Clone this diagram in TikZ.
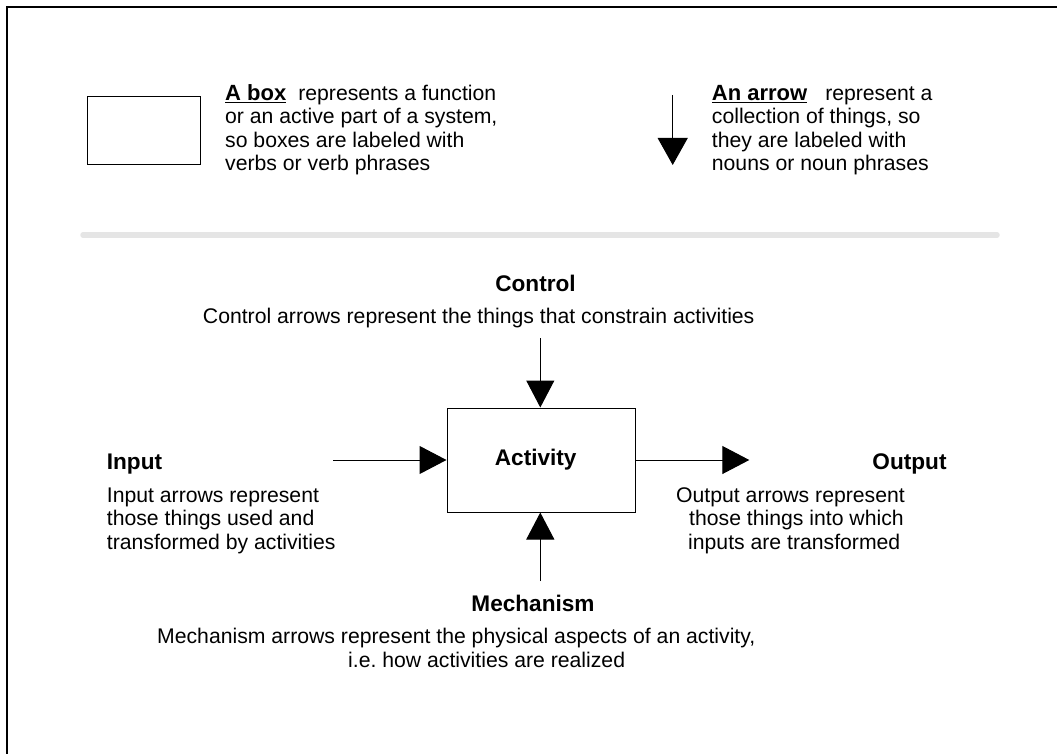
\documentclass[tikz,border=0pt]{standalone}
\usepackage{fontspec}
\setmainfont{Liberation Sans}
\usetikzlibrary{arrows.meta}
\newcommand\keyfont{\fontsize{22}{23}\selectfont\bfseries}
\begin{document}
\begin{tikzpicture}[x=1pt,y=-1pt,
  % multi-line text nodes are placed by the baseline of their last line
  txt/.style={inner sep=0pt, anchor=base west, align=left,
    font=\fontsize{21.2}{23.3}\selectfont},
  hd/.style={inner sep=0pt, anchor=base,
    font=\fontsize{22.6}{26}\selectfont\bfseries},
  frame/.style={line width=1.8pt},
  boxed/.style={draw, line width=1pt, inner sep=0pt},
  flow/.style={line width=1pt, -{Triangle[length=27pt,width=28pt]}},
  ]
\useasboundingbox (0,0) rectangle (1057,754);

% page frame (top and left edges)
\coordinate (fbl) at (6.8,760);
\coordinate (ftl) at (6.8,6.8);
\coordinate (ftr) at (1062,6.8);
\draw[frame] (fbl) -- (ftl) -- (ftr);

% legend: a box
\node[boxed, minimum width=113pt, minimum height=68pt, anchor=north west] (kbox) at (87,96) {};
\node[txt] (kboxtxt) at (225,170.5)
  {{\keyfont\underline{A box}}\hspace{12pt}represents a function\\
   or an active part of a system,\\
   so boxes are labeled with\\
   verbs or verb phrases};

% legend: an arrow
\coordinate (karrA) at (672.7,95);
\coordinate (karrB) at (672.7,165);
\draw[line width=1pt, -{Triangle[length=27pt,width=30pt]}] (karrA) -- (karrB);
\node[txt] (karrtxt) at (711.7,170.5)
  {{\keyfont\underline{An arrow}}\hspace{18pt}represent a\\
   collection of things, so\\
   they are labeled with\\
   nouns or noun phrases};

% separator
\coordinate (sepL) at (83,235);
\coordinate (sepR) at (997,235);
\draw[line width=5.5pt, black!10, line cap=round] (sepL) -- (sepR);

% activity box
\node[boxed, minimum width=188pt, minimum height=104pt] (act) at (541,460) {};
\node[hd] (actlbl) at (535.7,465) {Activity};

% control
\node[hd] (ctl) at (535.5,291) {Control};
\node[txt, anchor=base] (ctltxt) at (478.7,323)
  {Control arrows represent the things that constrain activities};
\coordinate (ctlsrc) at (540.3,338.3);
\draw[flow] (ctlsrc) -- (ctlsrc |- act.north);

% input
\node[hd, anchor=base west] (inlbl) at (106.7,469) {Input};
\node[txt] (intxt) at (106.7,549)
  {Input arrows represent\\
   those things used and\\
   transformed by activities};
\coordinate (insrc) at (333.3,460);
\draw[flow] (insrc) -- (act.west);

% output
\node[hd, anchor=base east] (outlbl) at (946.7,469) {Output};
\node[txt] (outtxt) at (676,549)
  {Output arrows represent\\
   \hspace*{13pt}those things into which\\
   \hspace*{12pt}inputs are transformed};
\coordinate (outdst) at (749.3,460);
\draw[flow] (act.east) -- (outdst);

% mechanism
\node[hd] (mech) at (533,611) {Mechanism};
\node[txt] (mechtxt) at (157,667)
  {Mechanism arrows represent the physical aspects of an activity,\\[0.7pt]
   \hspace*{191pt}i.e.\ how activities are realized};
\coordinate (mechsrc) at (540.3,581);
\draw[flow] (mechsrc) -- (mechsrc |- act.south);
\end{tikzpicture}
\end{document}
